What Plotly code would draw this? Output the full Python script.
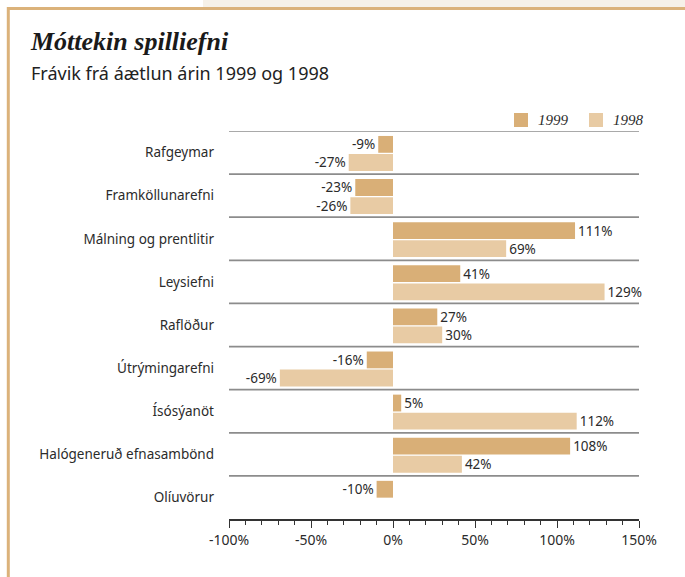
import plotly.graph_objects as go

categories = ["Rafgeymar", "Framköllunarefni", "Málning og prentlitir", "Leysiefni",
              "Raflöður", "Útrýmingarefni", "Ísósýanöt", "Halógeneruð efnasambönd", "Olíuvörur"]
values_1999 = [-9, -23, 111, 41, 27, -16, 5, 108, -10]
values_1998 = [-27, -26, 69, 129, 30, -69, 112, 42, None]
x_tick_vals = [-100, -50, 0, 50, 100, 150]
x_tick_text = ["-100%", "-50%", "0%", "50%", "100%", "150%"]
series_names = ["1999", "1998"]

C1999 = "#d9af77"
C1998 = "#e8cba4"
BORDER = "#dbb27a"
TXT = "#2b2b2b"
SANS = "Noto Sans"
SERIF = "Liberation Serif"

W, H = 685, 577
L, R, T, B = 229, 639, 131, 519


def px(x):
    return (x - L) / (R - L)


def py(y):
    return (B - y) / (B - T)


idx = list(range(len(categories)))


def labels(vals):
    return ["" if v is None else f"{v}%" for v in vals]


fig = go.Figure()
fig.add_trace(go.Bar(
    y=idx, x=values_1999, orientation="h", name=series_names[0],
    offset=-0.385, width=0.39, marker=dict(color=C1999, line=dict(width=0)),
    text=labels(values_1999), textposition="outside", cliponaxis=False,
    constraintext="none", textfont=dict(family=SANS, size=13.5, color=TXT),
    hoverinfo="skip"))
fig.add_trace(go.Bar(
    y=idx, x=values_1998, orientation="h", name=series_names[1],
    offset=0.035, width=0.39, marker=dict(color=C1998, line=dict(width=0)),
    text=labels(values_1998), textposition="outside", cliponaxis=False,
    constraintext="none", textfont=dict(family=SANS, size=13.5, color=TXT),
    hoverinfo="skip"))

shapes = []
# separators
for i in idx:
    shapes.append(dict(type="line", xref="x", yref="y", x0=-100, x1=150.5,
                       y0=i - 0.5, y1=i - 0.5, line=dict(color="#8c8c8c", width=1.7)))
# frame decoration
shapes.append(dict(type="rect", xref="paper", yref="paper", x0=px(203), x1=px(700),
                   y0=py(7), y1=py(-5), fillcolor="#f6f1e8", line=dict(width=0)))
shapes.append(dict(type="line", xref="paper", yref="paper", x0=px(7), x1=px(700),
                   y0=py(8.5), y1=py(8.5), line=dict(color=BORDER, width=3)))
shapes.append(dict(type="line", xref="paper", yref="paper", x0=px(8.3), x1=px(8.3),
                   y0=py(7), y1=py(590), line=dict(color=BORDER, width=3)))
# legend swatches
shapes.append(dict(type="rect", xref="paper", yref="paper", x0=px(514), x1=px(528),
                   y0=py(127), y1=py(113), fillcolor=C1999, line=dict(width=0)))
shapes.append(dict(type="rect", xref="paper", yref="paper", x0=px(589), x1=px(603),
                   y0=py(127), y1=py(113), fillcolor=C1998, line=dict(width=0)))

annotations = [
    dict(xref="paper", yref="paper", x=px(536), y=py(120), xanchor="left", yanchor="middle",
         text=series_names[0], showarrow=False,
         font=dict(family=SERIF, size=15, color=TXT, style="italic")),
    dict(xref="paper", yref="paper", x=px(611), y=py(120), xanchor="left", yanchor="middle",
         text=series_names[1], showarrow=False,
         font=dict(family=SERIF, size=15, color=TXT, style="italic")),
    dict(xref="paper", yref="paper", x=px(28), y=py(42), xanchor="left", yanchor="middle",
         text="Móttekin spilliefni", showarrow=False,
         font=dict(family=SERIF, size=26, color="#1a1a1a", style="italic", weight="bold")),
    dict(xref="paper", yref="paper", x=px(29), y=py(73), xanchor="left", yanchor="middle",
         text="Frávik frá áætlun árin 1999 og 1998", showarrow=False,
         font=dict(family=SANS, size=18, color="#222")),
]

fig.update_layout(
    width=W, height=H,
    margin=dict(l=L, r=W - R, t=T, b=H - B, pad=0),
    paper_bgcolor="white", plot_bgcolor="white",
    barmode="overlay", showlegend=False,
    shapes=shapes, annotations=annotations,
    xaxis=dict(range=[-100, 150], tickvals=x_tick_vals, ticktext=x_tick_text,
               showgrid=False, zeroline=False, showline=True, linecolor="#333",
               linewidth=1.5, ticks="outside", ticklen=7, tickwidth=1.3, tickcolor="#333",
               tickfont=dict(family=SANS, size=14, color=TXT), ticklabelstandoff=0,
               minor=dict(tick0=0, dtick=10, ticks="outside", ticklen=4, tickwidth=1.3,
                          tickcolor="#333", showgrid=False),
               fixedrange=True),
    yaxis=dict(range=[8.5, -0.5], tickvals=idx, ticktext=categories, showgrid=False,
               zeroline=False, showline=False, ticks="", ticklabelstandoff=14,
               tickfont=dict(family=SANS, size=13.5, color=TXT), fixedrange=True),
)

fig.write_html("out.html", config={"displayModeBar": False},
               post_script="document.body.style.margin='0';document.body.style.overflow='hidden';")
